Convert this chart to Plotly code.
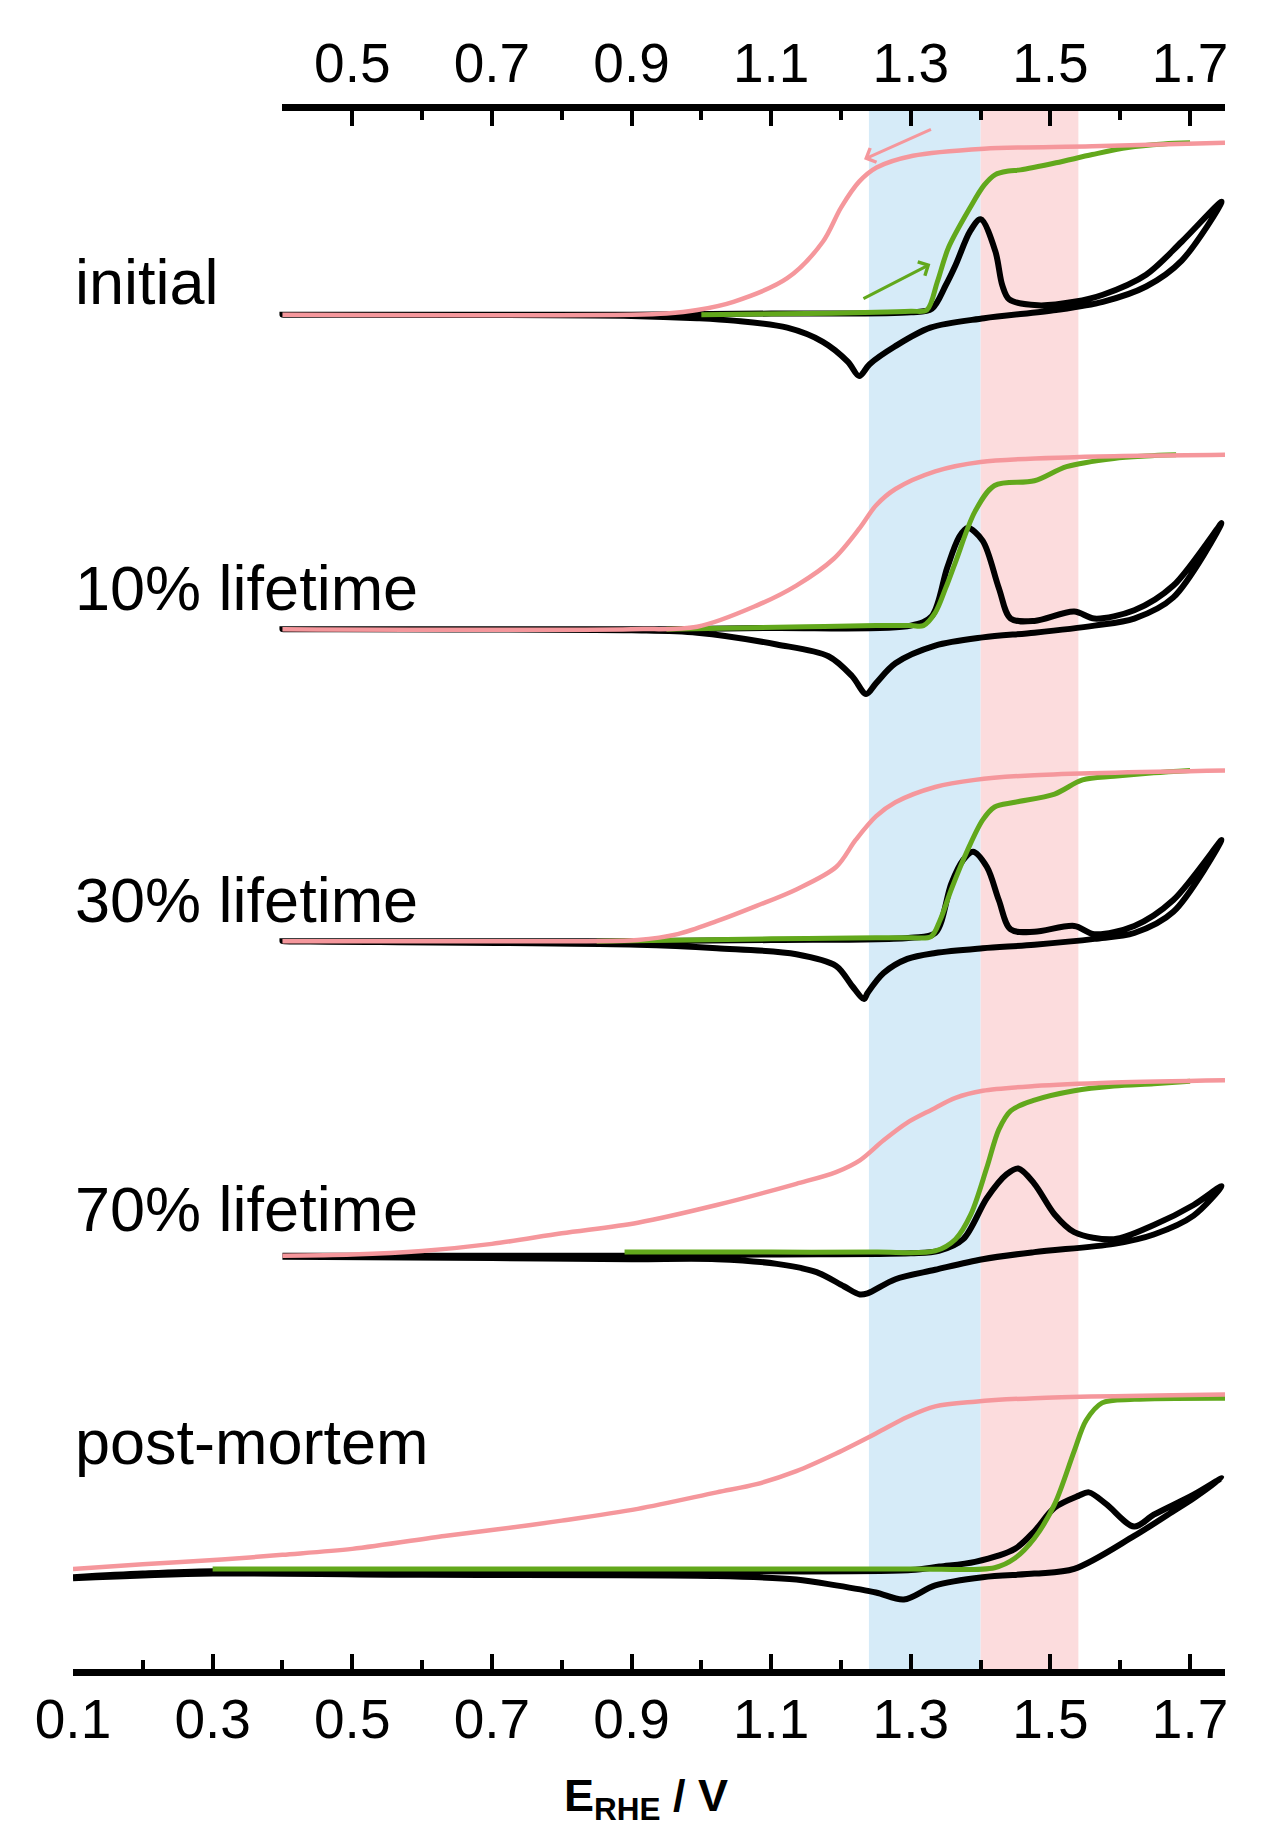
import plotly.graph_objects as go

# panel labels, vertical offsets of each panel and label heights (a.u.)
LABELS = ["initial", "10% lifetime", "30% lifetime", "70% lifetime", "post-mortem"]
OFFSETS = [1150, 883, 618, 351, 85]
LABEL_Y = [1178, 918, 653, 391, 193]

# shaded potential windows (V)
BLUE_BAND = [1.24, 1.40]
RED_BAND = [1.40, 1.54]

# tick values
BOTTOM_TICKS = [0.1, 0.3, 0.5, 0.7, 0.9, 1.1, 1.3, 1.5, 1.7]
TOP_TICKS = [0.5, 0.7, 0.9, 1.1, 1.3, 1.5, 1.7]

# --- initial ---
BLACK_V_1 = [0.40, 0.90, 1.10, 1.30, 1.33, 1.35, 1.364, 1.385, 1.40, 1.421, 1.431, 1.441, 1.482, 1.534, 1.575, 1.637, 1.688, 1.745,
             1.688, 1.637, 1.575, 1.508, 1.405, 1.328, 1.277, 1.241, 1.226, 1.21, 1.174, 1.123, 1.046, 0.994, 0.90, 0.40]
BLACK_I_1 = [0, 0, 1, 2, 5, 25, 42, 71, 81, 54, 25, 13, 8, 11, 17, 34, 62, 96,
             46, 24, 11, 4, -3, -11, -27, -42, -52, -40, -23, -11, -5, -3, -1, 0]
GREEN_V_1 = [1.00, 1.15, 1.25, 1.30, 1.323, 1.338, 1.354, 1.385, 1.405, 1.421, 1.44, 1.457, 1.508, 1.56, 1.611, 1.662, 1.70]
GREEN_I_1 = [0, 1, 2, 3, 4, 28, 57, 91, 110, 119, 122, 123, 129, 136, 142, 145, 146]
PINK_V_1 = [0.40, 0.90, 0.95, 0.994, 1.046, 1.123, 1.174, 1.20, 1.226, 1.251, 1.303, 1.405, 1.56, 1.75]
PINK_I_1 = [0, 0, 1, 4, 11, 31, 62, 91, 113, 125, 135, 141, 143, 146]

# --- 10% lifetime ---
BLACK_V_2 = [0.40, 0.95, 1.10, 1.30, 1.33, 1.352, 1.369, 1.381, 1.403, 1.426, 1.443, 1.477, 1.534, 1.563, 1.62, 1.676, 1.745,
             1.676, 1.62, 1.563, 1.477, 1.403, 1.335, 1.278, 1.25, 1.236, 1.216, 1.182, 1.108, 0.994, 0.90, 0.40]
BLACK_I_2 = [0, 0, 1, 3, 11, 52, 78, 86, 75, 35, 9, 7, 15, 9, 16, 37, 90,
             27, 9, 3, -3, -7, -14, -29, -46, -55, -40, -23, -13, -3, -1, 0]
GREEN_V_2 = [0.95, 1.15, 1.25, 1.30, 1.318, 1.335, 1.35, 1.364, 1.392, 1.42, 1.477, 1.523, 1.591, 1.637, 1.68]
GREEN_I_2 = [0, 2, 3, 3, 3, 14, 35, 57, 100, 122, 126, 138, 145, 147, 148]
PINK_V_2 = [0.40, 0.90, 0.994, 1.079, 1.136, 1.19, 1.227, 1.25, 1.278, 1.335, 1.40, 1.534, 1.75]
PINK_I_2 = [0, 0, 2, 20, 37, 60, 86, 105, 119, 134, 142, 146, 148]

# --- 30% lifetime ---
BLACK_V_3 = [0.40, 0.90, 1.10, 1.30, 1.335, 1.358, 1.375, 1.389, 1.409, 1.426, 1.443, 1.477, 1.534, 1.563, 1.62, 1.676, 1.745,
             1.676, 1.62, 1.563, 1.477, 1.403, 1.335, 1.295, 1.261, 1.238, 1.233, 1.216, 1.193, 1.136, 1.022, 0.909, 0.40]
BLACK_I_3 = [0, 0, 1, 3, 7, 49, 69, 76, 63, 35, 10, 8, 13, 6, 13, 35, 86,
             25, 7, 2, -3, -6, -10, -15, -27, -44, -49, -38, -21, -11, -6, -3, 0]
GREEN_V_3 = [0.85, 1.10, 1.25, 1.30, 1.329, 1.342, 1.358, 1.381, 1.403, 1.42, 1.449, 1.506, 1.546, 1.591, 1.648, 1.70]
GREEN_I_3 = [0, 2, 3, 3, 4, 18, 44, 77, 103, 114, 118, 125, 137, 140, 143, 145]
PINK_V_3 = [0.40, 0.80, 0.909, 0.966, 1.022, 1.079, 1.136, 1.193, 1.221, 1.25, 1.278, 1.335, 1.392, 1.477, 1.75]
PINK_I_3 = [0, 0, 1, 6, 17, 30, 44, 63, 86, 106, 118, 131, 137, 141, 145]

# --- 70% lifetime ---
BLACK_V_4 = [0.40, 0.90, 1.10, 1.30, 1.34, 1.375, 1.409, 1.437, 1.454, 1.477, 1.506, 1.534, 1.591, 1.648, 1.705, 1.745,
             1.705, 1.648, 1.591, 1.477, 1.403, 1.335, 1.278, 1.238, 1.227, 1.204, 1.165, 1.108, 1.022, 0.90, 0.70, 0.40]
BLACK_I_4 = [0, 0, 1, 2, 4, 14, 49, 69, 74, 61, 35, 20, 14, 26, 43, 59,
             34, 18, 10, 3, -3, -12, -20, -32, -33, -26, -14, -7, -3, -3, -2, -1]
GREEN_V_4 = [0.89, 1.10, 1.25, 1.335, 1.364, 1.386, 1.409, 1.426, 1.443, 1.477, 1.534, 1.591, 1.648, 1.70]
GREEN_I_4 = [3, 3, 3, 4, 14, 35, 75, 107, 123, 132, 140, 144, 146, 148]
PINK_V_4 = [0.40, 0.50, 0.60, 0.70, 0.80, 0.909, 1.022, 1.136, 1.193, 1.227, 1.261, 1.295, 1.33, 1.364, 1.403, 1.477, 1.591, 1.75]
PINK_I_4 = [0, 1, 4, 10, 19, 28, 43, 61, 71, 81, 98, 113, 124, 134, 140, 144, 147, 149]

# --- post-mortem ---
BLACK_V_5 = [0.10, 0.20, 0.30, 0.60, 1.00, 1.30, 1.341, 1.392, 1.449, 1.477, 1.506, 1.54, 1.555, 1.58, 1.62, 1.648, 1.705, 1.745,
             1.705, 1.676, 1.62, 1.534, 1.477, 1.403, 1.335, 1.29, 1.25, 1.193, 1.136, 1.022, 0.60, 0.30, 0.10]
BLACK_I_5 = [-7, -4, -2, -2, -2, -1, 2, 6, 17, 32, 52, 62, 65, 55, 36, 46, 63, 77,
             60, 49, 28, 0, -4, -7, -14, -26, -20, -14, -9, -6, -5, -4, -8]
GREEN_V_5 = [0.30, 1.00, 1.30, 1.42, 1.449, 1.477, 1.506, 1.534, 1.551, 1.574, 1.62, 1.75]
GREEN_I_5 = [0, 0, 0, 1, 9, 26, 55, 100, 126, 141, 144, 145]
PINK_V_5 = [0.10, 0.20, 0.313, 0.40, 0.50, 0.632, 0.70, 0.80, 0.909, 1.022, 1.079, 1.136, 1.193, 1.25, 1.295, 1.335, 1.392, 1.477, 1.75]
PINK_I_5 = [0, 4, 8, 12, 17, 28, 33, 41, 51, 65, 72, 83, 98, 115, 129, 138, 142, 145, 148]

BLACK = [(BLACK_V_1, BLACK_I_1), (BLACK_V_2, BLACK_I_2), (BLACK_V_3, BLACK_I_3), (BLACK_V_4, BLACK_I_4), (BLACK_V_5, BLACK_I_5)]
GREEN = [(GREEN_V_1, GREEN_I_1), (GREEN_V_2, GREEN_I_2), (GREEN_V_3, GREEN_I_3), (GREEN_V_4, GREEN_I_4), (GREEN_V_5, GREEN_I_5)]
PINK = [(PINK_V_1, PINK_I_1), (PINK_V_2, PINK_I_2), (PINK_V_3, PINK_I_3), (PINK_V_4, PINK_I_4), (PINK_V_5, PINK_I_5)]

PINK_COL = "#f5979c"
GREEN_COL = "#62a81c"
FONT = "Liberation Sans, Arial, sans-serif"

fig = go.Figure()

for curves, col, w in [(BLACK, "black", 6), (GREEN, GREEN_COL, 5), (PINK, PINK_COL, 4.5)]:
    for (v, i), off in zip(curves, OFFSETS):
        fig.add_trace(go.Scatter(
            x=v, y=[val + off for val in i],
            mode="lines",
            line=dict(color=col, width=w, shape="spline", smoothing=0.9),
            showlegend=False, hoverinfo="skip"
        ))

# dummy trace so the top axis gets drawn
fig.add_trace(go.Scatter(x=[0.4, 1.75], y=[None, None], xaxis="x2", yaxis="y",
                         mode="lines", showlegend=False, hoverinfo="skip"))

for x0, x1, col in [(BLUE_BAND[0], BLUE_BAND[1], "#d6ebf8"), (RED_BAND[0], RED_BAND[1], "#fcdcdd")]:
    fig.add_shape(type="rect", xref="x", yref="paper", x0=x0, x1=x1, y0=0, y1=1,
                  fillcolor=col, line_width=0, layer="below")

for lab, ly in zip(LABELS, LABEL_Y):
    fig.add_annotation(text=lab, xref="paper", yref="y", x=0.0, y=ly,
                       xanchor="left", yanchor="middle", showarrow=False,
                       font=dict(family=FONT, size=63, color="black"))

# sweep direction arrows (initial panel)
fig.add_annotation(x=1.233, y=1282, ax=1.331, ay=1308, xref="x", yref="y", axref="x", ayref="y",
                   text="", showarrow=True, arrowhead=4, arrowsize=1.0, arrowwidth=3, arrowcolor=PINK_COL)
fig.add_annotation(x=1.328, y=1193, ax=1.23, ay=1163, xref="x", yref="y", axref="x", ayref="y",
                   text="", showarrow=True, arrowhead=4, arrowsize=1.0, arrowwidth=3, arrowcolor=GREEN_COL)

fig.add_annotation(text="<b>E<sub>RHE</sub> / V</b>", xref="paper", yref="paper", x=0.497, y=-0.083,
                   xanchor="center", yanchor="middle", showarrow=False,
                   font=dict(family=FONT, size=45, color="black"))

axis_style = dict(
    showline=True, linewidth=7, linecolor="black",
    ticks="inside", ticklen=15, tickwidth=4, tickcolor="black",
    tickformat=".1f", showgrid=False, zeroline=False,
    tickfont=dict(family=FONT, size=55, color="black"),
    minor=dict(ticks="inside", ticklen=9, tickwidth=4, tickcolor="black", tick0=0.1, dtick=0.1),
)

# the page body keeps its default 8px margin, so the figure is a bit smaller than the window
fig.update_layout(
    width=1245, height=1830,
    paper_bgcolor="white", plot_bgcolor="rgba(0,0,0,0)",
    margin=dict(l=65, r=28, t=103, b=169),
    xaxis=dict(range=[0.1, 1.75], tickvals=BOTTOM_TICKS, side="bottom", anchor="y",
               ticklabelstandoff=-4, **axis_style),
    xaxis2=dict(range=[0.4, 1.75], tickvals=TOP_TICKS, side="top", anchor="y",
                domain=[0.3 / 1.65, 1], ticklabelstandoff=0, **axis_style),
    yaxis=dict(range=[0, 1323], visible=False),
)

fig.write_html("out.html")
